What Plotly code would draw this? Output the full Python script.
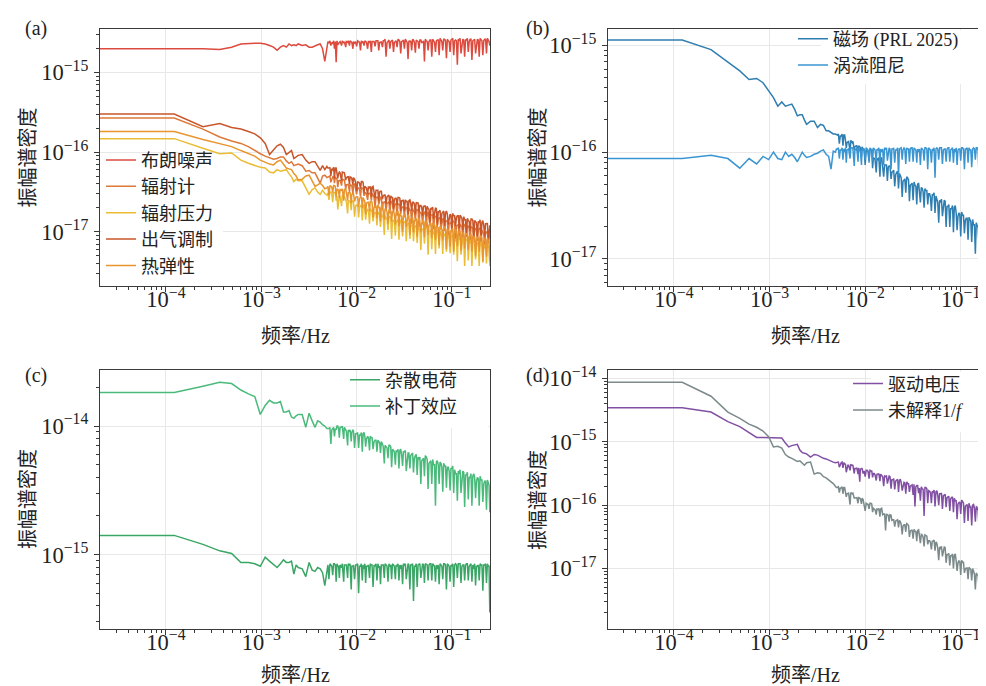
import plotly.graph_objects as go

# ---------------- frequency grid (spectral bins) ----------------
DF = 0.5 / 4096          # Hz per bin
LEFT_EDGE_FREQ = 1.0e-5  # DC bin drawn at the left edge
BINS = [1, 2, 3, 4, 5, 6, 7, 8, 9, 10,
        11, 12, 13, 14, 15, 16, 17, 18, 19, 20,
        22, 24, 26, 28, 30, 32, 34, 36, 38, 40,
        42, 44, 46, 48, 50,
        52, 54, 57, 60, 63,
        66, 69, 72, 75, 78,
        82, 86, 90, 94, 98,
        102, 107, 112, 117, 122,
        128, 134, 140, 146, 153,
        160, 167, 175, 183, 191,
        200, 209, 218, 228, 238,
        249, 260, 272, 284, 297,
        310, 324, 339, 354, 370,
        387, 404, 422, 441, 461,
        482, 504, 527, 551, 576,
        602, 629, 657, 687, 718,
        750, 784, 819, 856, 895,
        935, 977, 1021, 1067, 1115,
        1165, 1217, 1272, 1329, 1389,
        1452, 1517, 1585, 1656, 1731,
        1809, 1890, 1975, 2048]
# in-between bins of the noisy high-frequency part (upper side of the noise band)
MID_BINS = [41, 43, 45, 47, 49,
            51, 53, 55, 58, 61,
            64, 67, 70, 73, 76,
            80, 84, 88, 92, 96,
            100, 104, 109, 114, 119,
            125, 131, 137, 143, 149,
            156, 163, 171, 179, 187,
            195, 204, 213, 223, 233,
            243, 254, 266, 278, 290,
            303, 317, 331, 346, 362,
            378, 395, 413, 431, 451,
            471, 493, 515, 539, 563,
            589, 615, 643, 672, 702,
            734, 767, 801, 837, 875,
            915, 956, 999, 1044, 1091,
            1140, 1191, 1244, 1300, 1359,
            1420, 1484, 1551, 1620, 1693,
            1770, 1849, 1932, 2011]
FREQ_HZ = [LEFT_EDGE_FREQ] + [k * DF for k in BINS]
MID_FREQ_HZ = [k * DF for k in MID_BINS]

# ---------------- amplitude spectral densities (log10 values) ----------------
# panel (a)
brownian_log10 = [
    -14.70, -14.70, -14.70, -14.71, -14.68, -14.64, -14.63, -14.63, -14.63, -14.64, -14.66,
    -14.68, -14.72, -14.68, -14.66, -14.68, -14.64, -14.66, -14.65, -14.66, -14.64,
    -14.66, -14.65, -14.68, -14.68, -14.66, -14.65, -14.64, -14.70, -14.86, -14.66,
    -14.63, -14.66, -14.64, -14.70, -14.87,
    -14.65, -14.62, -14.66, -14.63, -14.68,
    -14.62, -14.66, -14.61, -14.70, -14.63,
    -14.67, -14.61, -14.72, -14.62, -14.66,
    -14.61, -14.70, -14.62, -14.74, -14.61,
    -14.67, -14.60, -14.72, -14.62, -14.68,
    -14.60, -14.80, -14.61, -14.70, -14.60,
    -14.74, -14.61, -14.68, -14.59, -14.76,
    -14.60, -14.70, -14.60, -14.83, -14.61,
    -14.72, -14.59, -14.75, -14.60, -14.70,
    -14.59, -14.62, -14.86, -14.60, -14.72,
    -14.59, -14.80, -14.60, -14.74, -14.59,
    -14.78, -14.59, -14.72, -14.58, -14.82,
    -14.60, -14.74, -14.58, -14.78, -14.59,
    -14.90, -14.59, -14.76, -14.58, -14.80,
    -14.59, -14.74, -14.58, -14.84, -14.59,
    -14.76, -14.58, -14.80, -14.59, -14.78,
    -14.58, -14.76, -14.59, -14.66]
brownian_mid_log10 = [
    -14.61, -14.60, -14.62, -14.60, -14.61,
    -14.60, -14.62, -14.61, -14.60, -14.61,
    -14.61, -14.60, -14.60, -14.62, -14.61,
    -14.61, -14.60, -14.62, -14.60, -14.61,
    -14.60, -14.62, -14.61, -14.60, -14.61,
    -14.61, -14.60, -14.60, -14.62, -14.61,
    -14.60, -14.58, -14.62, -14.59, -14.61,
    -14.59, -14.62, -14.60, -14.58, -14.61,
    -14.61, -14.59, -14.58, -14.62, -14.60,
    -14.60, -14.58, -14.62, -14.59, -14.61,
    -14.59, -14.62, -14.60, -14.58, -14.61,
    -14.61, -14.59, -14.58, -14.62, -14.60,
    -14.59, -14.57, -14.61, -14.58, -14.60,
    -14.58, -14.61, -14.59, -14.57, -14.60,
    -14.60, -14.58, -14.57, -14.61, -14.59,
    -14.59, -14.57, -14.61, -14.58, -14.60,
    -14.58, -14.61, -14.59, -14.57, -14.60,
    -14.60, -14.58, -14.57, -14.61]

radiometer_log10 = [
    -15.57, -15.57, -15.71, -15.81, -15.86, -15.89, -15.93, -15.98, -16.02, -16.05, -16.07,
    -16.09, -16.08, -16.06, -16.06, -16.11, -16.14, -16.12, -16.17, -16.16, -16.15,
    -16.17, -16.24, -16.23, -16.26, -16.26, -16.33, -16.39, -16.30, -16.29, -16.32,
    -16.31, -16.38, -16.31, -16.39, -16.33,
    -16.44, -16.36, -16.42, -16.35, -16.46,
    -16.41, -16.50, -16.42, -16.53, -16.40,
    -16.53, -16.45, -16.56, -16.46, -16.55,
    -16.51, -16.60, -16.52, -16.61, -16.54,
    -16.70, -16.57, -16.66, -16.56, -16.73,
    -16.63, -16.74, -16.64, -16.77, -16.62,
    -16.76, -16.65, -16.80, -16.66, -16.78,
    -16.69, -16.82, -16.70, -16.83, -16.73,
    -16.90, -16.74, -16.86, -16.72, -16.94,
    -16.76, -16.91, -16.77, -16.95, -16.75,
    -16.92, -16.79, -16.97, -16.81, -16.94,
    -16.83, -16.97, -16.84, -16.99, -16.87,
    -17.05, -16.89, -17.01, -16.87, -17.09,
    -16.92, -17.07, -16.93, -17.11, -16.91,
    -17.07, -16.93, -17.13, -16.95, -17.10,
    -16.96, -17.12, -16.97, -17.14, -17.01,
    -17.21, -17.02, -17.15, -17.00]
radiometer_mid_log10 = [
    -16.31, -16.30, -16.32, -16.30, -16.31,
    -16.34, -16.36, -16.35, -16.34, -16.35,
    -16.41, -16.40, -16.40, -16.42, -16.41,
    -16.46, -16.45, -16.47, -16.45, -16.46,
    -16.51, -16.53, -16.52, -16.51, -16.52,
    -16.57, -16.56, -16.56, -16.58, -16.57,
    -16.63, -16.62, -16.64, -16.62, -16.63,
    -16.65, -16.67, -16.66, -16.65, -16.66,
    -16.70, -16.69, -16.69, -16.71, -16.70,
    -16.73, -16.71, -16.75, -16.72, -16.74,
    -16.75, -16.78, -16.76, -16.74, -16.77,
    -16.81, -16.79, -16.78, -16.82, -16.80,
    -16.84, -16.82, -16.86, -16.83, -16.85,
    -16.87, -16.90, -16.88, -16.86, -16.89,
    -16.93, -16.91, -16.90, -16.94, -16.92,
    -16.94, -16.92, -16.96, -16.93, -16.95,
    -16.96, -16.99, -16.97, -16.95, -16.98,
    -17.02, -17.00, -16.99, -17.03]

radiation_pressure_log10 = [
    -15.83, -15.83, -15.95, -16.02, -16.01, -16.10, -16.14, -16.17, -16.19, -16.20, -16.25,
    -16.26, -16.22, -16.24, -16.23, -16.22, -16.27, -16.31, -16.37, -16.34, -16.36,
    -16.36, -16.45, -16.53, -16.47, -16.45, -16.50, -16.53, -16.48, -16.52, -16.54,
    -16.60, -16.50, -16.63, -16.51, -16.61,
    -16.72, -16.55, -16.68, -16.56, -16.60,
    -16.77, -16.62, -16.73, -16.61, -16.81,
    -16.67, -16.82, -16.68, -16.86, -16.66,
    -16.85, -16.72, -16.90, -16.74, -16.87,
    -16.76, -16.92, -16.77, -16.94, -16.81,
    -17.04, -16.83, -16.98, -16.81, -17.09,
    -16.86, -17.05, -16.88, -17.10, -16.85,
    -17.06, -16.88, -17.12, -16.90, -17.09,
    -16.92, -17.12, -16.93, -17.14, -16.98,
    -17.23, -16.97, -17.15, -16.95, -17.29,
    -16.99, -17.22, -17.02, -17.28, -16.98,
    -17.21, -17.02, -17.28, -17.04, -17.25,
    -17.05, -17.27, -17.06, -17.29, -17.11,
    -17.37, -17.10, -17.29, -17.07, -17.43,
    -17.11, -17.36, -17.14, -17.43, -17.10,
    -17.35, -17.14, -17.43, -17.17, -17.39,
    -17.17, -17.40, -17.18, -17.43]
radiation_pressure_mid_log10 = [
    -16.51, -16.50, -16.52, -16.50, -16.51,
    -16.55, -16.57, -16.56, -16.55, -16.56,
    -16.62, -16.61, -16.61, -16.63, -16.62,
    -16.67, -16.65, -16.69, -16.66, -16.68,
    -16.72, -16.75, -16.73, -16.71, -16.74,
    -16.78, -16.76, -16.75, -16.79, -16.77,
    -16.82, -16.80, -16.84, -16.81, -16.83,
    -16.85, -16.88, -16.86, -16.84, -16.87,
    -16.90, -16.88, -16.87, -16.91, -16.89,
    -16.93, -16.91, -16.95, -16.92, -16.94,
    -16.95, -16.98, -16.96, -16.94, -16.97,
    -17.00, -16.98, -16.97, -17.01, -16.99,
    -17.03, -17.00, -17.06, -17.02, -17.05,
    -17.05, -17.09, -17.06, -17.03, -17.08,
    -17.10, -17.07, -17.05, -17.11, -17.08,
    -17.11, -17.08, -17.14, -17.10, -17.13,
    -17.14, -17.18, -17.15, -17.12, -17.17,
    -17.20, -17.17, -17.15, -17.21]

outgassing_log10 = [
    -15.52, -15.52, -15.68, -15.64, -15.69, -15.71, -15.74, -15.77, -15.82, -15.89, -16.03,
    -15.97, -15.92, -15.90, -15.94, -16.03, -16.00, -15.98, -16.08, -16.06, -16.04,
    -16.03, -16.10, -16.14, -16.12, -16.12, -16.18, -16.23, -16.17, -16.22, -16.18,
    -16.20, -16.30, -16.22, -16.33, -16.20,
    -16.33, -16.25, -16.36, -16.26, -16.35,
    -16.31, -16.40, -16.32, -16.41, -16.34,
    -16.49, -16.38, -16.46, -16.37, -16.51,
    -16.44, -16.53, -16.45, -16.56, -16.43,
    -16.58, -16.48, -16.61, -16.49, -16.59,
    -16.54, -16.65, -16.55, -16.66, -16.57,
    -16.71, -16.58, -16.67, -16.57, -16.74,
    -16.61, -16.74, -16.62, -16.78, -16.60,
    -16.74, -16.63, -16.78, -16.64, -16.76,
    -16.67, -16.80, -16.68, -16.81, -16.71,
    -16.88, -16.72, -16.84, -16.70, -16.92,
    -16.75, -16.90, -16.76, -16.94, -16.74,
    -16.91, -16.78, -16.96, -16.80, -16.93,
    -16.80, -16.96, -16.81, -16.98, -16.85,
    -17.05, -16.86, -16.99, -16.84, -17.09,
    -16.87, -17.06, -16.89, -17.11, -16.86,
    -17.06, -16.90, -17.12, -16.92]
outgassing_mid_log10 = [
    -16.20, -16.19, -16.21, -16.19, -16.20,
    -16.25, -16.27, -16.26, -16.25, -16.26,
    -16.32, -16.31, -16.31, -16.33, -16.32,
    -16.38, -16.37, -16.39, -16.37, -16.38,
    -16.43, -16.45, -16.44, -16.43, -16.44,
    -16.49, -16.48, -16.48, -16.50, -16.49,
    -16.55, -16.54, -16.56, -16.54, -16.55,
    -16.57, -16.59, -16.58, -16.57, -16.58,
    -16.61, -16.60, -16.60, -16.62, -16.61,
    -16.64, -16.63, -16.65, -16.63, -16.64,
    -16.67, -16.69, -16.68, -16.67, -16.68,
    -16.72, -16.70, -16.69, -16.73, -16.71,
    -16.75, -16.73, -16.77, -16.74, -16.76,
    -16.78, -16.81, -16.79, -16.77, -16.80,
    -16.82, -16.80, -16.79, -16.83, -16.81,
    -16.85, -16.83, -16.87, -16.84, -16.86,
    -16.86, -16.89, -16.87, -16.85, -16.88,
    -16.92, -16.90, -16.89, -16.93]

thermoelastic_log10 = [
    -15.74, -15.74, -15.84, -15.89, -15.93, -15.98, -16.02, -16.05, -16.10, -16.13, -16.15,
    -16.16, -16.12, -16.10, -16.16, -16.20, -16.21, -16.22, -16.27, -16.30, -16.35,
    -16.34, -16.30, -16.29, -16.36, -16.43, -16.41, -16.39, -16.42, -16.46, -16.45,
    -16.54, -16.43, -16.51, -16.42, -16.56,
    -16.47, -16.58, -16.48, -16.61, -16.46,
    -16.61, -16.51, -16.64, -16.52, -16.62,
    -16.56, -16.69, -16.57, -16.70, -16.60,
    -16.78, -16.63, -16.74, -16.62, -16.82,
    -16.68, -16.83, -16.69, -16.87, -16.67,
    -16.85, -16.72, -16.90, -16.74, -16.87,
    -16.75, -16.91, -16.76, -16.93, -16.80,
    -17.00, -16.81, -16.94, -16.79, -17.04,
    -16.84, -17.01, -16.86, -17.06, -16.83,
    -17.01, -16.87, -17.07, -16.89, -17.04,
    -16.90, -17.08, -16.91, -17.10, -16.95,
    -17.17, -16.96, -17.11, -16.94, -17.22,
    -16.98, -17.19, -17.00, -17.25, -16.97,
    -17.18, -17.00, -17.24, -17.02, -17.21,
    -17.03, -17.23, -17.04, -17.25, -17.09,
    -17.31, -17.08, -17.25, -17.06, -17.37,
    -17.10, -17.31, -17.12, -17.37]
thermoelastic_mid_log10 = [
    -16.43, -16.42, -16.44, -16.42, -16.43,
    -16.46, -16.48, -16.47, -16.46, -16.47,
    -16.52, -16.51, -16.51, -16.53, -16.52,
    -16.57, -16.56, -16.58, -16.56, -16.57,
    -16.62, -16.64, -16.63, -16.62, -16.63,
    -16.69, -16.67, -16.66, -16.70, -16.68,
    -16.73, -16.71, -16.75, -16.72, -16.74,
    -16.75, -16.78, -16.76, -16.74, -16.77,
    -16.81, -16.79, -16.78, -16.82, -16.80,
    -16.84, -16.82, -16.86, -16.83, -16.85,
    -16.87, -16.90, -16.88, -16.86, -16.89,
    -16.92, -16.90, -16.89, -16.93, -16.91,
    -16.95, -16.93, -16.97, -16.94, -16.96,
    -16.97, -17.00, -16.98, -16.96, -16.99,
    -17.02, -17.00, -16.99, -17.03, -17.01,
    -17.04, -17.02, -17.06, -17.03, -17.05,
    -17.06, -17.09, -17.07, -17.05, -17.08,
    -17.11, -17.09, -17.08, -17.12]

# panel (b)
magnetic_log10 = [
    -14.95, -14.95, -15.04, -15.16, -15.24, -15.32, -15.31, -15.35, -15.42, -15.49, -15.57,
    -15.53, -15.57, -15.56, -15.55, -15.60, -15.66, -15.65, -15.65, -15.70, -15.74,
    -15.71, -15.71, -15.77, -15.74, -15.75, -15.80, -15.80, -15.82, -15.83, -15.83,
    -15.84, -15.92, -15.85, -15.94, -15.84,
    -15.96, -15.90, -15.99, -15.91, -15.98,
    -15.94, -16.03, -15.95, -16.04, -15.97,
    -16.12, -15.99, -16.08, -15.98, -16.15,
    -16.06, -16.19, -16.07, -16.23, -16.05,
    -16.23, -16.12, -16.27, -16.13, -16.25,
    -16.18, -16.32, -16.19, -16.34, -16.22,
    -16.42, -16.26, -16.38, -16.24, -16.46,
    -16.30, -16.45, -16.31, -16.49, -16.29,
    -16.47, -16.34, -16.52, -16.36, -16.49,
    -16.39, -16.55, -16.40, -16.57, -16.44,
    -16.66, -16.47, -16.60, -16.45, -16.70,
    -16.51, -16.70, -16.53, -16.75, -16.50,
    -16.73, -16.57, -16.79, -16.59, -16.76,
    -16.62, -16.82, -16.63, -16.84, -16.68,
    -16.95, -16.69, -16.87, -16.67, -17.01,
    -16.74, -16.97, -16.77, -17.03, -16.73,
    -16.97, -16.78, -17.04, -16.80]
magnetic_mid_log10 = [
    -15.84, -15.83, -15.85, -15.83, -15.84,
    -15.89, -15.91, -15.90, -15.89, -15.90,
    -15.95, -15.94, -15.94, -15.96, -15.95,
    -15.99, -15.98, -16.00, -15.98, -15.99,
    -16.05, -16.07, -16.06, -16.05, -16.06,
    -16.13, -16.12, -16.12, -16.14, -16.13,
    -16.19, -16.17, -16.21, -16.18, -16.20,
    -16.24, -16.27, -16.25, -16.23, -16.26,
    -16.31, -16.29, -16.28, -16.32, -16.30,
    -16.35, -16.33, -16.37, -16.34, -16.36,
    -16.39, -16.42, -16.40, -16.38, -16.41,
    -16.47, -16.45, -16.44, -16.48, -16.46,
    -16.51, -16.49, -16.53, -16.50, -16.52,
    -16.57, -16.60, -16.58, -16.56, -16.59,
    -16.64, -16.62, -16.61, -16.65, -16.63,
    -16.68, -16.66, -16.70, -16.67, -16.69,
    -16.73, -16.76, -16.74, -16.72, -16.75,
    -16.80, -16.78, -16.77, -16.81]

eddy_damping_log10 = [
    -16.06, -16.06, -16.03, -16.06, -16.15, -16.06, -16.11, -16.04, -16.07, -16.00, -16.06,
    -16.07, -16.00, -16.04, -16.02, -16.05, -16.09, -16.04, -16.00, -16.03, -16.05,
    -16.04, -16.02, -16.01, -15.99, -15.98, -16.02, -16.04, -16.16, -15.99, -16.00,
    -15.97, -16.06, -15.98, -16.07, -16.00,
    -16.10, -15.97, -16.06, -15.96, -16.13,
    -15.98, -16.09, -15.99, -16.12, -15.97,
    -16.07, -15.97, -16.10, -15.98, -16.08,
    -15.97, -16.08, -15.98, -16.09, -16.00,
    -16.12, -15.97, -16.08, -15.96, -16.16,
    -15.97, -16.10, -15.98, -16.22, -15.96,
    -16.07, -15.96, -16.11, -15.97, -16.09,
    -15.96, -16.09, -15.97, -16.10, -16.00,
    -16.12, -15.97, -16.08, -15.96, -16.16,
    -15.97, -16.10, -15.98, -16.24, -15.96,
    -16.07, -15.96, -16.11, -15.97, -16.09,
    -15.96, -16.09, -15.97, -16.10, -16.00,
    -16.12, -15.97, -16.08, -15.96, -16.16,
    -15.97, -16.10, -15.98, -16.14, -15.96,
    -16.07, -15.96, -16.22, -15.97, -16.09,
    -15.96, -16.09, -15.97, -16.10, -16.00,
    -16.12, -15.97, -16.08, -15.96]
eddy_damping_mid_log10 = [
    -15.97, -15.96, -15.98, -15.96, -15.97,
    -15.96, -15.98, -15.97, -15.96, -15.97,
    -15.97, -15.96, -15.96, -15.98, -15.97,
    -15.97, -15.96, -15.98, -15.96, -15.97,
    -15.96, -15.98, -15.97, -15.96, -15.97,
    -15.97, -15.96, -15.96, -15.98, -15.97,
    -15.97, -15.96, -15.98, -15.96, -15.97,
    -15.96, -15.98, -15.97, -15.96, -15.97,
    -15.97, -15.96, -15.96, -15.98, -15.97,
    -15.97, -15.96, -15.98, -15.96, -15.97,
    -15.96, -15.98, -15.97, -15.96, -15.97,
    -15.97, -15.96, -15.96, -15.98, -15.97,
    -15.97, -15.96, -15.98, -15.96, -15.97,
    -15.96, -15.98, -15.97, -15.96, -15.97,
    -15.97, -15.96, -15.96, -15.98, -15.97,
    -15.97, -15.96, -15.98, -15.96, -15.97,
    -15.96, -15.98, -15.97, -15.96, -15.97,
    -15.97, -15.96, -15.96, -15.98]

# panel (c)
stray_charge_log10 = [
    -14.85, -14.85, -14.92, -14.97, -14.99, -15.06, -15.06, -15.07, -15.09, -15.02, -15.05,
    -15.08, -15.10, -15.07, -15.04, -15.06, -15.06, -15.05, -15.15, -15.08, -15.10,
    -15.11, -15.17, -15.06, -15.12, -15.13, -15.10, -15.11, -15.14, -15.24, -15.10,
    -15.19, -15.08, -15.16, -15.07, -15.21,
    -15.09, -15.18, -15.10, -15.21, -15.08,
    -15.18, -15.08, -15.27, -15.09, -15.19,
    -15.08, -15.30, -15.09, -15.20, -15.11,
    -15.22, -15.09, -15.18, -15.08, -15.25,
    -15.09, -15.20, -15.10, -15.23, -15.08,
    -15.18, -15.08, -15.21, -15.09, -15.19,
    -15.08, -15.19, -15.09, -15.20, -15.11,
    -15.23, -15.08, -15.19, -15.07, -15.27,
    -15.08, -15.36, -15.09, -15.25, -15.07,
    -15.18, -15.07, -15.22, -15.08, -15.20,
    -15.07, -15.20, -15.08, -15.21, -15.11,
    -15.23, -15.08, -15.19, -15.07, -15.27,
    -15.08, -15.21, -15.09, -15.25, -15.07,
    -15.18, -15.07, -15.22, -15.08, -15.20,
    -15.07, -15.20, -15.08, -15.21, -15.11,
    -15.24, -15.09, -15.20, -15.08, -15.28,
    -15.08, -15.22, -15.09, -15.45]
stray_charge_mid_log10 = [
    -15.08, -15.07, -15.09, -15.07, -15.08,
    -15.07, -15.09, -15.08, -15.07, -15.08,
    -15.08, -15.07, -15.07, -15.09, -15.08,
    -15.08, -15.07, -15.09, -15.07, -15.08,
    -15.07, -15.09, -15.08, -15.07, -15.08,
    -15.08, -15.07, -15.07, -15.09, -15.08,
    -15.08, -15.07, -15.09, -15.07, -15.08,
    -15.07, -15.09, -15.08, -15.07, -15.08,
    -15.08, -15.07, -15.07, -15.09, -15.08,
    -15.08, -15.07, -15.09, -15.07, -15.08,
    -15.07, -15.09, -15.08, -15.07, -15.08,
    -15.08, -15.07, -15.07, -15.09, -15.08,
    -15.08, -15.07, -15.09, -15.07, -15.08,
    -15.07, -15.09, -15.08, -15.07, -15.08,
    -15.08, -15.07, -15.07, -15.09, -15.08,
    -15.08, -15.07, -15.09, -15.07, -15.08,
    -15.07, -15.09, -15.08, -15.07, -15.08,
    -15.08, -15.07, -15.07, -15.09]

patch_effect_log10 = [
    -13.74, -13.74, -13.69, -13.66, -13.67, -13.72, -13.75, -13.77, -13.91, -13.84, -13.80,
    -13.82, -13.82, -13.81, -13.89, -13.89, -13.88, -13.93, -13.94, -13.92, -13.91,
    -13.91, -14.01, -13.90, -13.96, -14.01, -13.96, -13.97, -13.99, -14.00, -14.02,
    -14.02, -14.14, -14.02, -14.08, -14.03,
    -14.00, -14.09, -14.01, -14.10, -14.03,
    -14.15, -14.04, -14.12, -14.03, -14.17,
    -14.06, -14.17, -14.07, -14.20, -14.05,
    -14.16, -14.08, -14.19, -14.09, -14.18,
    -14.11, -14.20, -14.12, -14.21, -14.14,
    -14.29, -14.16, -14.25, -14.15, -14.32,
    -14.19, -14.30, -14.20, -14.33, -14.18,
    -14.31, -14.20, -14.35, -14.21, -14.33,
    -14.22, -14.36, -14.23, -14.38, -14.26,
    -14.45, -14.26, -14.39, -14.24, -14.49,
    -14.28, -14.45, -14.30, -14.62, -14.27,
    -14.45, -14.29, -14.51, -14.31, -14.48,
    -14.32, -14.50, -14.33, -14.52, -14.37,
    -14.58, -14.37, -14.52, -14.35, -14.63,
    -14.38, -14.57, -14.40, -14.62, -14.37,
    -14.56, -14.40, -14.62, -14.42, -14.59,
    -14.43, -14.65, -14.44, -14.67]
patch_effect_mid_log10 = [
    -14.02, -14.01, -14.03, -14.01, -14.02,
    -14.00, -14.02, -14.01, -14.00, -14.01,
    -14.04, -14.03, -14.03, -14.05, -14.04,
    -14.06, -14.05, -14.07, -14.05, -14.06,
    -14.08, -14.10, -14.09, -14.08, -14.09,
    -14.12, -14.11, -14.11, -14.13, -14.12,
    -14.16, -14.15, -14.17, -14.15, -14.16,
    -14.18, -14.20, -14.19, -14.18, -14.19,
    -14.22, -14.20, -14.19, -14.23, -14.21,
    -14.23, -14.21, -14.25, -14.22, -14.24,
    -14.24, -14.27, -14.25, -14.23, -14.26,
    -14.29, -14.27, -14.26, -14.30, -14.28,
    -14.30, -14.28, -14.32, -14.29, -14.31,
    -14.32, -14.35, -14.33, -14.31, -14.34,
    -14.37, -14.35, -14.34, -14.38, -14.36,
    -14.38, -14.36, -14.40, -14.37, -14.39,
    -14.40, -14.43, -14.41, -14.39, -14.42,
    -14.45, -14.43, -14.42, -14.46]

# panel (d)
drive_voltage_log10 = [
    -14.46, -14.46, -14.53, -14.68, -14.76, -14.86, -14.93, -14.93, -14.93, -14.93, -14.93,
    -14.94, -15.02, -15.08, -15.06, -15.05, -15.04, -15.13, -15.17, -15.18, -15.19,
    -15.24, -15.20, -15.21, -15.24, -15.26, -15.27, -15.29, -15.30, -15.32, -15.33,
    -15.33, -15.40, -15.33, -15.41, -15.35,
    -15.48, -15.37, -15.45, -15.36, -15.50,
    -15.42, -15.51, -15.63, -15.42, -15.50,
    -15.55, -15.45, -15.58, -15.46, -15.56,
    -15.50, -15.61, -15.51, -15.62, -15.53,
    -15.70, -15.55, -15.66, -15.54, -15.74,
    -15.60, -15.75, -15.61, -15.79, -15.59,
    -15.77, -15.64, -15.82, -15.66, -15.79,
    -15.68, -15.84, -16.02, -15.69, -15.81,
    -15.93, -15.74, -16.17, -15.72, -15.97,
    -15.78, -15.97, -15.80, -16.02, -15.77,
    -16.00, -15.82, -16.06, -15.84, -16.03,
    -15.87, -16.09, -15.88, -16.11, -15.93,
    -16.22, -15.96, -16.14, -15.94, -16.28,
    -16.00, -16.25, -16.03, -16.32, -15.99,
    -16.26, -16.04, -16.35, -16.07, -16.31,
    -16.10, -16.37, -16.12, -16.40, -16.18,
    -16.49, -16.17, -16.40, -16.14]
drive_voltage_mid_log10 = [
    -15.33, -15.32, -15.34, -15.32, -15.33,
    -15.36, -15.38, -15.37, -15.36, -15.37,
    -15.42, -15.41, -15.41, -15.43, -15.42,
    -15.46, -15.45, -15.47, -15.45, -15.46,
    -15.50, -15.52, -15.51, -15.50, -15.51,
    -15.55, -15.54, -15.54, -15.56, -15.55,
    -15.60, -15.58, -15.62, -15.59, -15.61,
    -15.64, -15.67, -15.65, -15.63, -15.66,
    -15.70, -15.68, -15.67, -15.71, -15.69,
    -15.73, -15.71, -15.75, -15.72, -15.74,
    -15.77, -15.80, -15.78, -15.76, -15.79,
    -15.84, -15.82, -15.81, -15.85, -15.83,
    -15.88, -15.86, -15.90, -15.87, -15.89,
    -15.93, -15.98, -15.95, -15.92, -15.97,
    -16.02, -15.99, -15.97, -16.03, -16.00,
    -16.05, -16.02, -16.08, -16.04, -16.07,
    -16.10, -16.14, -16.11, -16.08, -16.13,
    -16.17, -16.14, -16.12, -16.18]

unexplained_1f_log10 = [
    -14.06, -14.06, -14.28, -14.53, -14.63, -14.72, -14.77, -14.83, -14.92, -15.08, -15.07,
    -15.10, -15.20, -15.24, -15.26, -15.28, -15.31, -15.30, -15.34, -15.37, -15.33,
    -15.32, -15.51, -15.49, -15.50, -15.55, -15.57, -15.60, -15.62, -15.66, -15.70,
    -15.72, -15.80, -15.73, -15.82, -15.72,
    -15.87, -15.81, -15.99, -15.82, -15.89,
    -15.88, -15.97, -15.89, -15.98, -15.91,
    -16.09, -15.98, -16.06, -15.97, -16.11,
    -16.06, -16.15, -16.07, -16.18, -16.05,
    -16.14, -16.40, -16.15, -16.26, -16.16,
    -16.23, -16.34, -16.24, -16.35, -16.26,
    -16.46, -16.31, -16.42, -16.30, -16.50,
    -16.40, -16.53, -16.41, -16.57, -16.39,
    -16.60, -16.47, -16.65, -16.49, -16.62,
    -16.56, -16.70, -16.57, -16.72, -16.60,
    -16.87, -16.68, -16.81, -16.66, -16.91,
    -16.78, -16.95, -16.80, -17.00, -16.77,
    -17.04, -16.88, -17.10, -16.90, -17.07,
    -16.99, -17.17, -17.00, -17.19, -17.04,
    -17.33, -17.10, -17.27, -17.08, -17.39,
    -17.21, -17.42, -17.23, -17.48, -17.20,
    -17.47, -17.28, -17.54, -17.30]
unexplained_1f_mid_log10 = [
    -15.72, -15.71, -15.73, -15.71, -15.72,
    -15.80, -15.82, -15.81, -15.80, -15.81,
    -15.89, -15.88, -15.88, -15.90, -15.89,
    -15.98, -15.97, -15.99, -15.97, -15.98,
    -16.05, -16.07, -16.06, -16.05, -16.06,
    -16.15, -16.14, -16.14, -16.16, -16.15,
    -16.24, -16.23, -16.25, -16.23, -16.24,
    -16.30, -16.33, -16.31, -16.29, -16.32,
    -16.41, -16.39, -16.38, -16.42, -16.40,
    -16.48, -16.46, -16.50, -16.47, -16.49,
    -16.56, -16.59, -16.57, -16.55, -16.58,
    -16.68, -16.66, -16.65, -16.69, -16.67,
    -16.78, -16.76, -16.80, -16.77, -16.79,
    -16.88, -16.91, -16.89, -16.87, -16.90,
    -17.01, -16.99, -16.98, -17.02, -17.00,
    -17.09, -17.07, -17.11, -17.08, -17.10,
    -17.20, -17.23, -17.21, -17.19, -17.22,
    -17.30, -17.28, -17.27, -17.31]

# labels
X_TITLE = "频率/Hz"
Y_TITLE = "振幅谱密度"
PANEL_LABELS = ["(a)", "(b)", "(c)", "(d)"]

SERIES = [
    # (name, log10 values, in-between log10 values, color, panel index)
    ("布朗噪声", brownian_log10, brownian_mid_log10, "#dc4b3e", 0),
    ("辐射计", radiometer_log10, radiometer_mid_log10, "#de7838", 0),
    ("辐射压力", radiation_pressure_log10, radiation_pressure_mid_log10, "#ebbd34", 0),
    ("出气调制", outgassing_log10, outgassing_mid_log10, "#c9562a", 0),
    ("热弹性", thermoelastic_log10, thermoelastic_mid_log10, "#e8952f", 0),
    ("磁场 (PRL 2025)", magnetic_log10, magnetic_mid_log10, "#2e7eb2", 1),
    ("涡流阻尼", eddy_damping_log10, eddy_damping_mid_log10, "#3a96d2", 1),
    ("杂散电荷", stray_charge_log10, stray_charge_mid_log10, "#3aa665", 2),
    ("补丁效应", patch_effect_log10, patch_effect_mid_log10, "#4aba7b", 2),
    ("驱动电压", drive_voltage_log10, drive_voltage_mid_log10, "#8150a3", 3),
    ("未解释1/<i>f</i>", unexplained_1f_log10, unexplained_1f_mid_log10, "#7c8a8b", 3),
]

for _, vals, mids, _, _ in SERIES:
    assert len(vals) == len(FREQ_HZ), (len(vals), len(FREQ_HZ))
    assert len(mids) == len(MID_FREQ_HZ), (len(mids), len(MID_FREQ_HZ))


def spectrum_table(vals, mids):
    pts = sorted(list(zip(FREQ_HZ, vals)) + list(zip(MID_FREQ_HZ, mids)))
    return [f for f, _ in pts], [10 ** v for _, v in pts]


W, H = 986, 686
SERIF = "Liberation Serif, Noto Sans CJK SC, serif"
TXT = "#222222"

fig = go.Figure()
axis_ids = ["", "2", "3", "4"]
legend_ids = ["legend", "legend2", "legend3", "legend4"]
for name, vals, mids, color, p in SERIES:
    fx, fy = spectrum_table(vals, mids)
    fig.add_trace(go.Scatter(
        x=fx, y=fy, mode="lines", name=name,
        line=dict(color=color, width=1.5),
        xaxis="x" + axis_ids[p], yaxis="y" + axis_ids[p],
        legend=legend_ids[p],
    ))

# panel geometry (paper fractions)
X_LEFT = [92 / W, 482 / W]
X_RIGHT = [600 / W, 1.0]
Y_TOP = [1 - 274 / H, 1 - 14 / H]
Y_BOT = [1 - 620 / H, 1 - 359 / H]

def xaxis(domain, rng, anchor):
    return dict(type="log", domain=domain, range=rng, anchor=anchor,
                showline=True, linecolor="#3a3a3a", linewidth=1.2, mirror=True,
                ticks="outside", ticklen=5, tickwidth=1, tickcolor="#3a3a3a",
                showgrid=True, gridcolor="#e8e8e8", gridwidth=1,
                dtick=1, exponentformat="power", showexponent="all",
                tickfont=dict(family=SERIF, size=18, color=TXT),
                ticklabelstandoff=-11,
                minor=dict(ticks="outside", ticklen=3, tickcolor="#3a3a3a", dtick="D1", showgrid=False),
                zeroline=False)

def yaxis(domain, rng, anchor, mirror=True):
    d = xaxis(domain, rng, anchor)
    d["mirror"] = mirror
    d["ticklabelstandoff"] = 2
    return d

fig.update_layout(
    width=W, height=H, margin=dict(l=0, r=0, t=0, b=0),
    paper_bgcolor="white", plot_bgcolor="white", showlegend=True,
    xaxis=xaxis(X_LEFT, [-4.6925, -0.60], "y"),
    yaxis=yaxis(Y_TOP, [-17.685, -14.45], "x"),
    xaxis2=xaxis(X_RIGHT, [-4.69, -0.652], "y2"),
    yaxis2=yaxis(Y_TOP, [-17.255, -14.846], "x2", mirror=False),
    xaxis3=xaxis(X_LEFT, [-4.6925, -0.60], "y3"),
    yaxis3=yaxis(Y_BOT, [-15.575, -13.567], "x3"),
    xaxis4=xaxis(X_RIGHT, [-4.69, -0.652], "y4"),
    yaxis4=yaxis(Y_BOT, [-17.95, -13.871], "x4", mirror=False),
)

leg_font = dict(family=SERIF, size=18, color=TXT)
common_leg = dict(borderwidth=0, font=leg_font, itemwidth=30, bgcolor="rgba(0,0,0,0)",
                  tracegroupgap=0, itemclick=False, xanchor="left", yanchor="top")
fig.update_layout(
    legend=dict(x=93 / W, y=1 - 128 / H, **common_leg),
    legend2=dict(x=785 / W, y=1 - 5.5 / H, **common_leg),
    legend3=dict(x=337 / W, y=1 - 350 / H, **common_leg),
    legend4=dict(x=840 / W, y=1 - 354 / H, **common_leg),
)

# white patches behind the legends (hide gridlines in the legend areas; no data lies there)
def patch(ax, x0, x1, y0, y1):
    return dict(type="rect", xref=f"x{ax} domain", yref=f"y{ax} domain",
                x0=x0, x1=x1, y0=y0, y1=y1, fillcolor="white",
                line=dict(width=0), layer="above")

fig.update_layout(shapes=[
    patch("", 0.004, 0.315, 0.008, 0.505),
    patch("2", 0.552, 1.0, 0.785, 0.995),
    patch("3", 0.695, 0.996, 0.778, 0.995),
    patch("4", 0.681, 1.0, 0.760, 0.995),
])

ann = []
# panel labels
for lab, (px, py) in zip(PANEL_LABELS, [(28, 14), (529, 14), (28, 364), (529, 364)]):
    ann.append(dict(text=lab, x=px / W, y=1 - py / H, xref="paper", yref="paper",
                    showarrow=False, xanchor="center", yanchor="middle",
                    font=dict(family=SERIF, size=20, color=TXT)))
# y titles
for px, py in [(20, 144), (530, 144), (20, 489), (530, 490)]:
    ann.append(dict(text=Y_TITLE, x=px / W, y=1 - py / H, xref="paper", yref="paper",
                    showarrow=False, xanchor="center", yanchor="middle", textangle=-90,
                    font=dict(family=SERIF, size=20, color=TXT)))
# x titles
for px, py in [(287, 324), (797, 324), (287, 667), (797, 667)]:
    ann.append(dict(text=X_TITLE, x=px / W, y=1 - py / H, xref="paper", yref="paper",
                    showarrow=False, xanchor="center", yanchor="middle",
                    font=dict(family=SERIF, size=20, color=TXT)))
fig.update_layout(annotations=ann)

fig.write_html("out.html")
